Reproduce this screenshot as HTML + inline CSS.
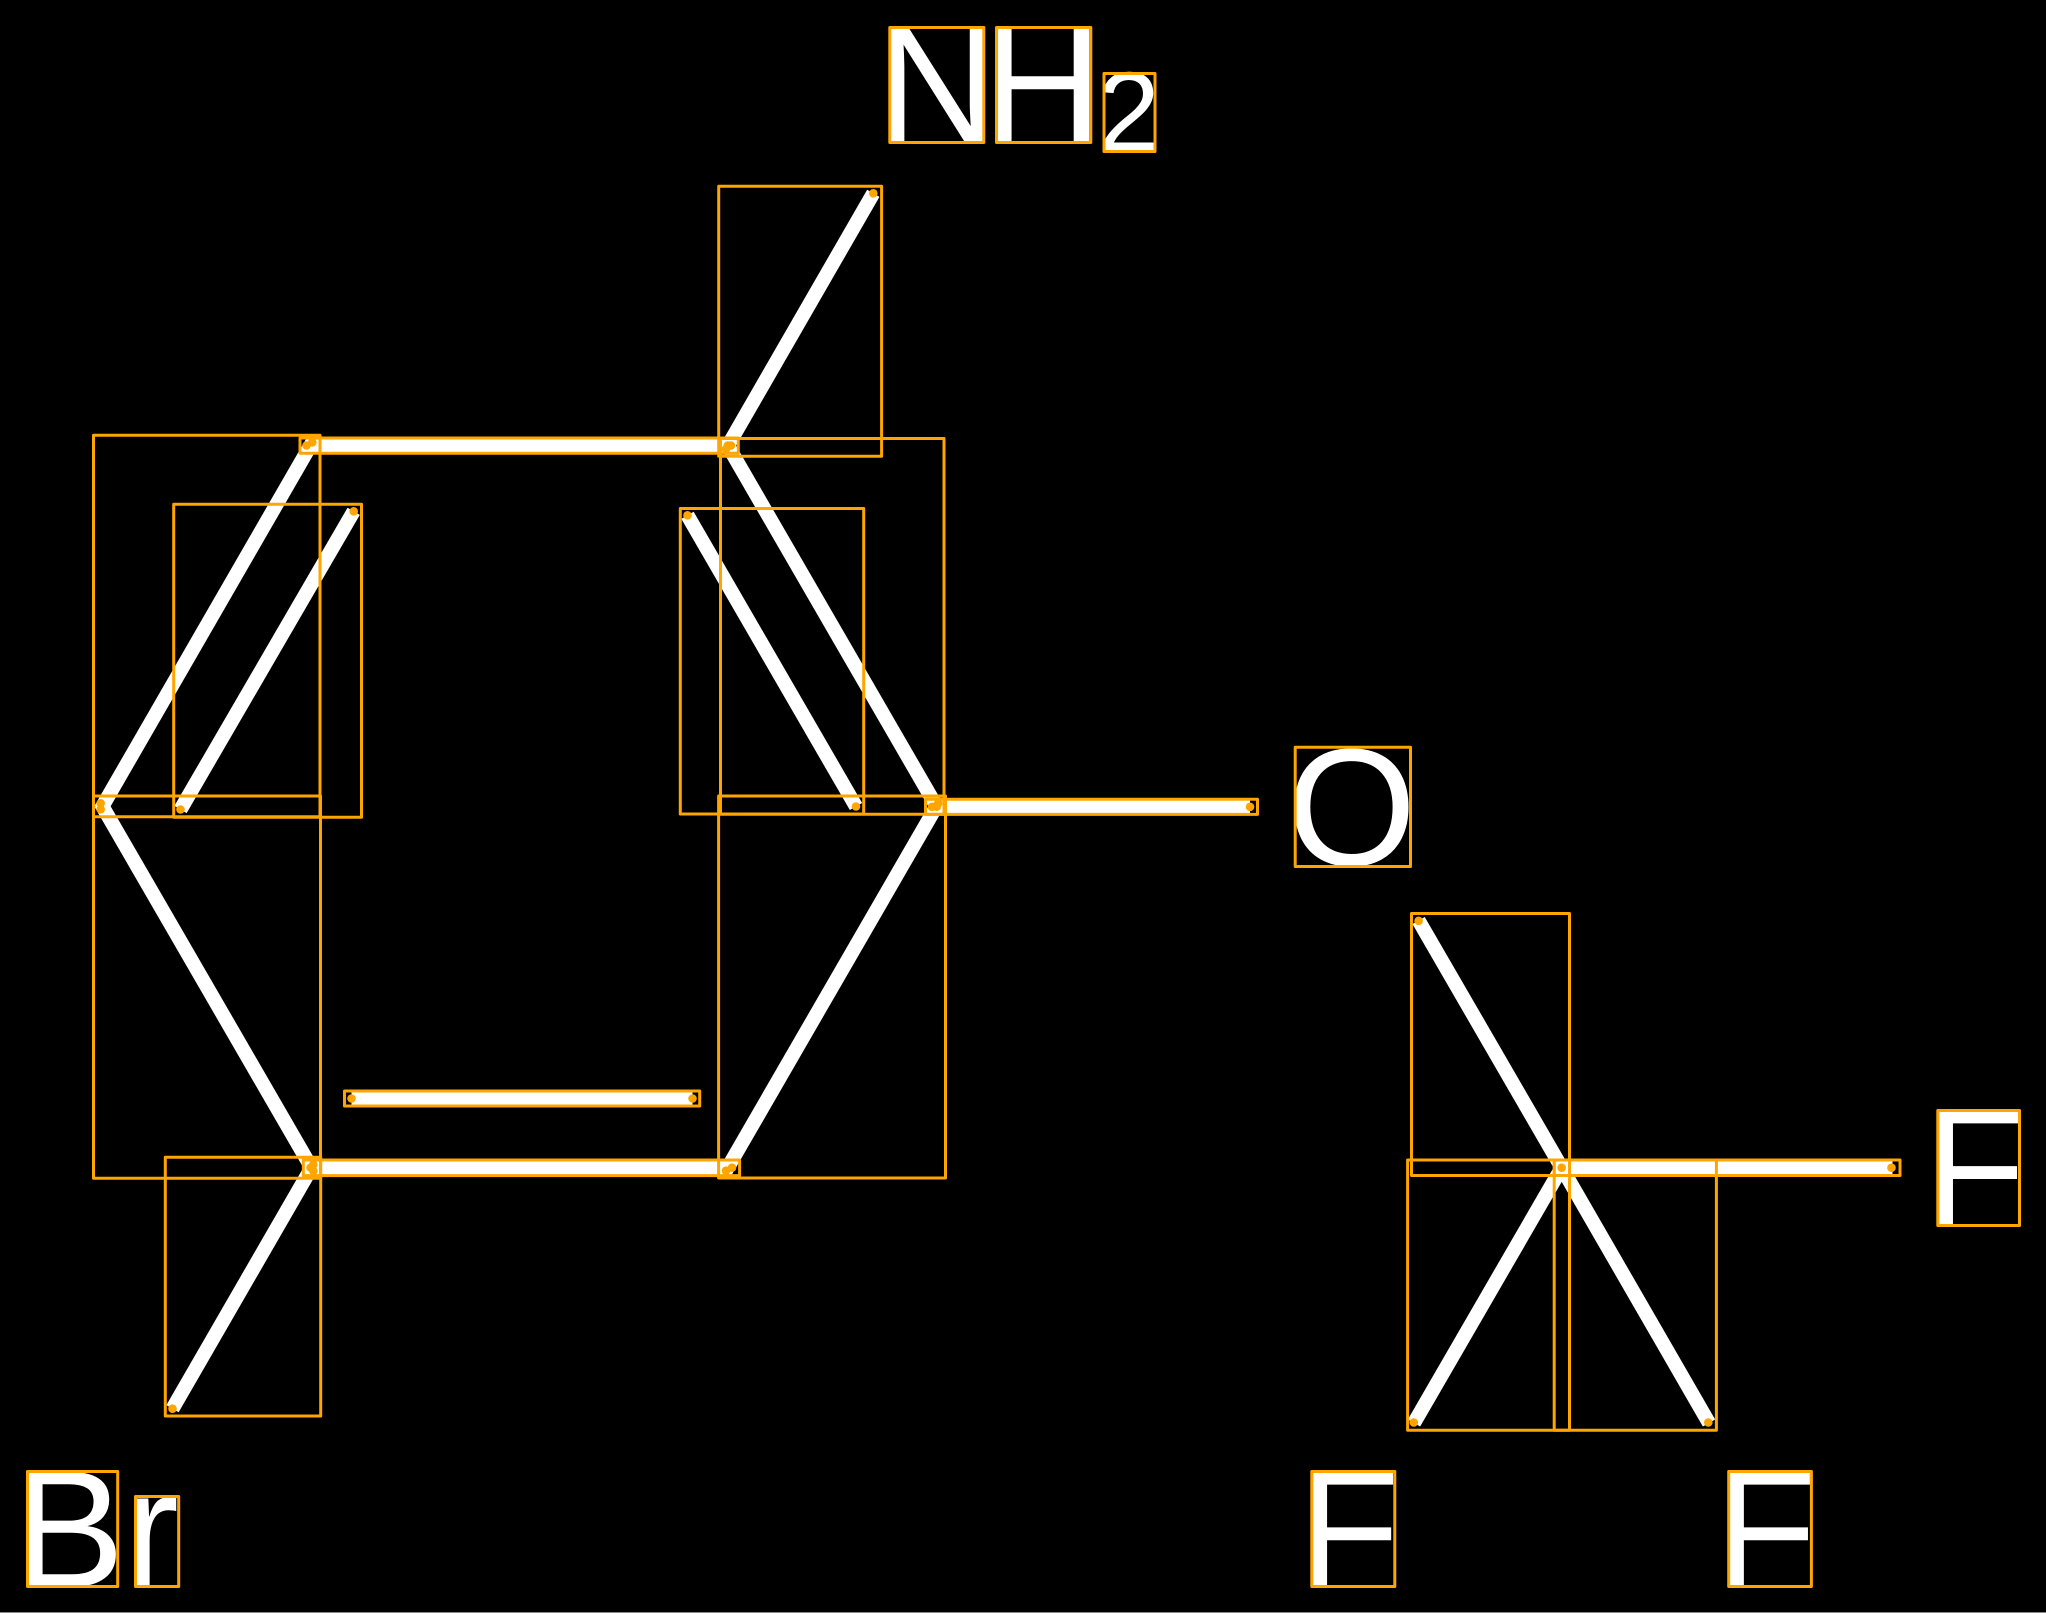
<!DOCTYPE html>
<html>
<head>
<meta charset="utf-8">
<style>
html,body{margin:0;padding:0;background:#000;width:2046px;height:1613px;overflow:hidden}
svg{display:block;position:absolute;left:0;top:0}
text{font-family:"Liberation Sans",sans-serif;fill:#fff}
</style>
</head>
<body>
<svg xmlns="http://www.w3.org/2000/svg" width="2046" height="1613" viewBox="0 0 2046 1613">
<rect x="0" y="0" width="2046" height="1613" fill="#000"/>
<rect x="0" y="1612" width="2046" height="1" fill="#888"/>

<g font-size="167">
<text x="876.8" y="142.5">N</text>
<text x="982.3" y="142.5">H</text>
<text x="1286.6" y="865">O</text>
<text x="13.3" y="1586.7">B</text>
<text x="123.4" y="1586.7">r</text>
<text x="1297.8" y="1586.8">F</text>
<text x="1714.6" y="1586.8">F</text>
<text x="1923.7" y="1225.6">F</text>
</g>
<text x="1097.3" y="151" font-size="113">2</text>

<g stroke="#fff" stroke-width="14.2" stroke-linecap="butt" fill="none">
<line x1="873.3" y1="193.3" x2="726" y2="449"/>
<line x1="727.8" y1="445.6" x2="936.7" y2="806.7"/>
<line x1="306.5" y1="445.5" x2="731" y2="445.5"/>
<line x1="312.3" y1="442.3" x2="100.7" y2="809.3"/>
<line x1="353.7" y1="511.3" x2="180.5" y2="809.5"/>
<line x1="687.5" y1="515.3" x2="856" y2="806.5"/>
<line x1="100.7" y1="803.3" x2="313.4" y2="1171"/>
<line x1="313.3" y1="1164.7" x2="172.5" y2="1408.7"/>
<line x1="310.6" y1="1167.7" x2="732" y2="1167.7"/>
<line x1="351.5" y1="1098.5" x2="692.5" y2="1098.5"/>
<line x1="938.2" y1="803.3" x2="726" y2="1170.7"/>
<line x1="932" y1="806.8" x2="1250" y2="806.8"/>
<line x1="1418.6" y1="920.5" x2="1561.7" y2="1167.7"/>
<line x1="1561.7" y1="1167.7" x2="1414" y2="1423"/>
<line x1="1561.7" y1="1167.7" x2="1709" y2="1423"/>
<line x1="1561.7" y1="1167.7" x2="1892.5" y2="1167.7"/>
</g>

<g stroke="#ffa500" stroke-width="3" stroke-linejoin="round" fill="none">
<!-- atom glyph boxes -->
<rect x="889.8" y="27.5" width="94" height="115"/>
<rect x="996.5" y="27.5" width="94.3" height="115"/>
<rect x="1104" y="73.5" width="51" height="78"/>
<rect x="1295.2" y="747.2" width="115.3" height="119.3"/>
<rect x="27.5" y="1471.5" width="90.2" height="115"/>
<rect x="135.5" y="1496.5" width="43.2" height="90"/>
<rect x="1311.8" y="1471.5" width="83" height="115"/>
<rect x="1728.7" y="1471.5" width="82.7" height="115"/>
<rect x="1937.8" y="1110.5" width="81.7" height="115"/>
<!-- bond boxes -->
<rect x="718.7" y="186.3" width="162.9" height="270"/>
<rect x="720.5" y="438.5" width="223.5" height="375.8"/>
<rect x="300" y="438" width="438.3" height="15.3"/>
<rect x="93.5" y="435.3" width="226.5" height="381.5"/>
<rect x="173.7" y="504.3" width="187.8" height="313"/>
<rect x="680.3" y="508.5" width="183.4" height="305.5"/>
<rect x="93.5" y="796" width="227" height="382.3"/>
<rect x="165.3" y="1157.3" width="155.4" height="258.7"/>
<rect x="303.3" y="1160" width="436.3" height="15.6"/>
<rect x="344.5" y="1091" width="355.2" height="15"/>
<rect x="718.6" y="796" width="226.9" height="382"/>
<rect x="925.5" y="799.2" width="332" height="15.2"/>
<rect x="1411.5" y="913.5" width="158" height="262"/>
<rect x="1407.6" y="1160" width="161.9" height="270.3"/>
<rect x="1554.2" y="1160" width="162.2" height="270.3"/>
<rect x="1554.2" y="1160" width="345.8" height="15.5"/>
</g>

<g fill="#ffa500">
<circle cx="873.3" cy="193.3" r="4.3"/><circle cx="726" cy="449" r="4.3"/>
<circle cx="727.8" cy="445.6" r="4.3"/><circle cx="936.7" cy="806.7" r="4.3"/>
<circle cx="306.5" cy="445.5" r="4.3"/><circle cx="731" cy="445.5" r="4.3"/>
<circle cx="312.3" cy="442.3" r="4.3"/><circle cx="100.7" cy="809.3" r="4.3"/>
<circle cx="353.7" cy="511.3" r="4.3"/><circle cx="180.5" cy="809.5" r="4.3"/>
<circle cx="687.5" cy="515.3" r="4.3"/><circle cx="856" cy="806.5" r="4.3"/>
<circle cx="100.7" cy="803.3" r="4.3"/><circle cx="313.4" cy="1171" r="4.3"/>
<circle cx="313.3" cy="1164.7" r="4.3"/><circle cx="172.5" cy="1408.7" r="4.3"/>
<circle cx="310.6" cy="1167.7" r="4.3"/><circle cx="732" cy="1167.7" r="4.3"/>
<circle cx="351.5" cy="1098.5" r="4.3"/><circle cx="692.5" cy="1098.5" r="4.3"/>
<circle cx="938.2" cy="803.3" r="4.3"/><circle cx="726" cy="1170.7" r="4.3"/>
<circle cx="932" cy="806.8" r="4.3"/><circle cx="1250" cy="806.8" r="4.3"/>
<circle cx="1418.6" cy="920.8" r="4.3"/><circle cx="1561.7" cy="1167.7" r="4.3"/>
<circle cx="1413.8" cy="1422.5" r="4.3"/><circle cx="1708.3" cy="1422.5" r="4.3"/>
<circle cx="1891.5" cy="1167.7" r="4.3"/>
</g>
</svg>
</body>
</html>
